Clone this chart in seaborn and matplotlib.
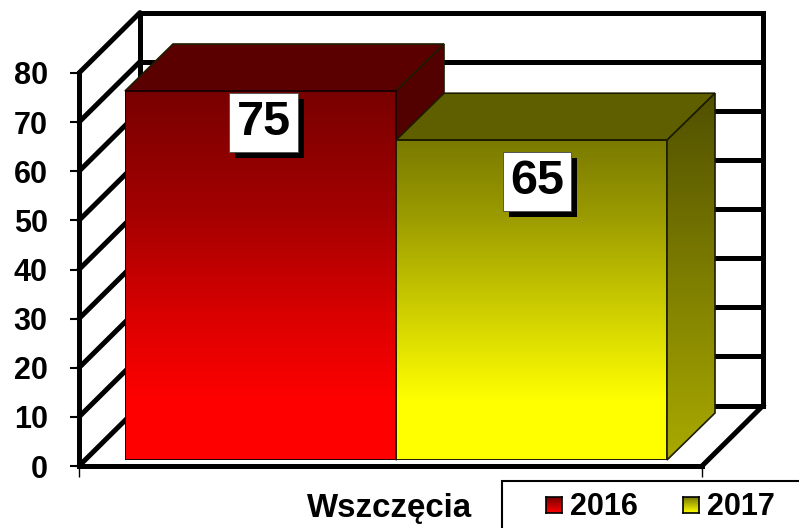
import seaborn as sns
import matplotlib.pyplot as plt
import matplotlib.patheffects as pe
import numpy as np
import pandas as pd
from matplotlib.colors import LinearSegmentedColormap
from matplotlib.patches import Polygon, Rectangle

# DATA
years = ['2016', '2017']
values = [75, 65]
category = 'Wszczęcia'
y_ticks = [0, 10, 20, 30, 40, 50, 60, 70, 80]

# Colours: face gradient bottom -> top, top plate, side bottom -> top
face_bottom = ['#ff0000', '#ffff00']
face_upper = ['#d80000', '#cfcf00']
face_mid = ['#a40000', '#9a9a00']
face_top = ['#780000', '#7a7a00']
top_colors = ['#5a0000', '#5f5f00']
side_bottom = ['#5a0000', '#aaaa00']
side_top = ['#520000', '#505000']

W, H = 799, 528
plt.rcParams['font.family'] = ['Liberation Sans', 'DejaVu Sans']
plt.rcParams['font.weight'] = 'bold'


def axes_box(left, right, top, bottom):
    return [left / W, 1 - bottom / H, (right - left) / W, (bottom - top) / H]


def gradient(ax, verts, low, high, z):
    # vertical colour ramp clipped to a polygon
    verts = np.array(verts)
    poly = Polygon(verts, closed=True, facecolor='none', edgecolor='none', zorder=z, clip_on=False)
    ax.add_patch(poly)
    cmap = LinearSegmentedColormap.from_list('ramp', [low, high])
    ramp = np.linspace(1, 0, 256).reshape(-1, 1)
    im = ax.imshow(ramp, cmap=cmap, vmin=0, vmax=1, aspect='auto', zorder=z,
                   extent=(verts[:, 0].min(), verts[:, 0].max(), verts[:, 1].min(), verts[:, 1].max()))
    im.set_clip_box(fig.bbox)
    im.set_clip_path(poly)
    return im


fig = plt.figure(figsize=(W / 100, H / 100), dpi=100)

# WALLS AND FLOOR
walls = fig.add_axes(axes_box(79, 702, 73, 466))
walls.set_xlim(0, 1)
walls.set_ylim(0, 80)
depth_x, depth_y = 61 / 623, 12.3
lw_wall = 3.6
for v in y_ticks:
    walls.plot([0, depth_x], [v, v + depth_y], color='black', lw=lw_wall, clip_on=False, solid_capstyle='round')
    walls.plot([depth_x, 1 + depth_x], [v + depth_y, v + depth_y], color='black', lw=lw_wall, clip_on=False)
walls.plot([depth_x, depth_x], [depth_y, 80 + depth_y], color='black', lw=lw_wall, clip_on=False)
walls.plot([1 + depth_x, 1 + depth_x], [depth_y, 80 + depth_y], color='black', lw=lw_wall, clip_on=False,
           solid_capstyle='projecting')
walls.plot([1, 1 + depth_x], [0, depth_y], color='black', lw=lw_wall, clip_on=False)
sns.despine(ax=walls, top=True, right=True)
walls.spines['left'].set_linewidth(lw_wall)
walls.spines['bottom'].set_linewidth(lw_wall)
walls.set_yticks(y_ticks)
walls.set_xticks([0, 1])
walls.set_xticklabels([])
walls.tick_params(axis='y', length=6.5, width=1.5, pad=16, labelsize=22)
walls.tick_params(axis='x', length=8, width=1)

# BARS
bars = fig.add_axes(axes_box(125, 667, 460 - 80 * 4.92, 460))
bars.patch.set_alpha(0)
df = pd.DataFrame({'year': years, 'value': values})
sns.barplot(data=df, x='year', y='value', hue='year', palette=face_bottom, width=1.0,
            legend=False, ax=bars, zorder=2)
bars.set_xlim(-0.5, 1.5)
bars.set_ylim(0, 80)
bars.axis('off')
dx, dy = 48 / 271, 9.55
edge = dict(edgecolor='#1c1c00', linewidth=1.2, clip_on=False)
label_drop = [6.4, 8.4]
for i, (patch, v) in enumerate(zip(bars.patches, values)):
    x0, x1 = patch.get_x(), patch.get_x() + patch.get_width()
    z = 3 + i * 10
    patch.set_zorder(z)
    patch.set_edgecolor('#1c0000' if i == 0 else '#1c1c00')
    patch.set_linewidth(1.4)
    patch.set_facecolor('none')
    # top plate and side
    bars.add_patch(Polygon([(x0, v), (x1, v), (x1 + dx, v + dy), (x0 + dx, v + dy)], facecolor=top_colors[i],
                           zorder=z, **edge))
    side = [(x1, 0), (x1 + dx, dy), (x1 + dx, v + dy), (x1, v)]
    gradient(bars, side, side_bottom[i], side_top[i], z)
    bars.add_patch(Polygon(side, facecolor='none', zorder=z + 1, **edge))
    # front face: full colour at the foot, darkening towards the top
    stops = [(0, face_bottom[i]), (12 / v, face_bottom[i]), (30 / v, face_upper[i]), (50 / v, face_mid[i]),
             (1, face_top[i])]
    cmap = LinearSegmentedColormap.from_list('face', stops)
    bars.imshow(np.linspace(1, 0, 256).reshape(-1, 1), cmap=cmap, vmin=0, vmax=1, aspect='auto',
                extent=(x0, x1, 0, v), zorder=z + 1, clip_on=False)
    patch.set_zorder(z + 2)
    # value box
    t = bars.text(i + 0.012 + 0.008 * i, v - label_drop[i], str(v), ha='center', va='center', fontsize=35,
                  fontweight='bold', color='black', zorder=z + 5,
                  bbox=dict(boxstyle='square,pad=0.15', facecolor='white', edgecolor='#555555', linewidth=0.7))
    t.get_bbox_patch().set_path_effects([
        pe.SimplePatchShadow(offset=(4.3, -4.3), shadow_rgbFace='black', alpha=1.0), pe.Normal()])
bars.set_xlim(-0.5, 1.5)
bars.set_ylim(0, 80)

# CATEGORY LABEL AND LEGEND
fig.text(307 / W, 1 - 508 / H, category, ha='left', va='center', fontsize=23.8, fontweight='bold')
fig.add_artist(Rectangle((502 / W, -0.1), 0.5, 1 - 481 / H + 0.1, transform=fig.transFigure,
                         facecolor='white', edgecolor='black', linewidth=1.5))
for i, (year, left) in enumerate(zip(years, [546, 683])):
    swatch = fig.add_axes(axes_box(left, left + 16, 497, 513), zorder=5)
    cmap = LinearSegmentedColormap.from_list('swatch', [face_top[i], face_bottom[i]])
    swatch.imshow(np.linspace(0, 1, 32).reshape(-1, 1), cmap=cmap, aspect='auto')
    swatch.set_xticks([])
    swatch.set_yticks([])
    for s in swatch.spines.values():
        s.set_linewidth(1.2)
    fig.text((left + 24) / W, 1 - 507 / H, year, ha='left', va='center', fontsize=22, fontweight='bold')

plt.savefig('out.png', dpi=100)
